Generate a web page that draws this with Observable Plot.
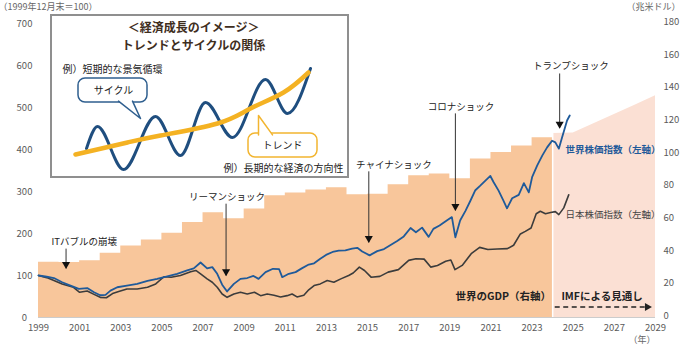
<!DOCTYPE html>
<html><head><meta charset="utf-8">
<script src="https://cdn.jsdelivr.net/npm/d3@7"></script>
<script src="https://cdn.jsdelivr.net/npm/@observablehq/plot@0.6"></script>
<style>
body{margin:0;background:#fff;}
#wrap{position:relative;width:680px;height:345px;}
#inset{position:absolute;left:50px;top:14px;width:295px;height:160px;border:2px solid #8f8f8f;background:#fff;}
</style></head><body><div id="wrap"><div id="main"></div><div id="inset"></div></div>
<script>
// ---- data ----
const xTicks = [1999,2001,2003,2005,2007,2009,2011,2013,2015,2017,2019,2021,2023,2025,2027,2029];
const leftTicks = [0,100,200,300,400,500,600,700];
const rightTicks = [0,20,40,60,80,100,120,140,160,180];

// World GDP (trillion USD, right axis), drawn for the year ending at each tick
const gdpYear = [2000,2001,2002,2003,2004,2005,2006,2007,2008,2009,2010,2011,2012,2013,2014,2015,2016,2017,2018,2019,2020,2021,2022,2023,2024];
const gdpValue = [33.8,33.7,34.7,39.4,43.7,47.5,51.6,58.2,64.1,60.5,66.5,74.6,76.2,78.0,79.5,75.2,75.4,81.2,86.8,87.8,85.0,97.0,101.0,105.0,110.0];
// IMF outlook
const forecastYear = [2024,2025,2026,2027,2028,2029];
const forecastValue = [112.7,112.9,118.6,124.3,130.0,135.8];

// World stock index (1999/12 = 100)
const worldT = [1999.0,1999.4,1999.75,2000.15,2000.4,2000.65,2000.96,2001.37,2001.7,2002.0,2002.26,2002.5,2002.83,2003.3,2003.8,2004.3,2004.77,2005.26,2005.74,2006.23,2006.55,2006.88,2007.2,2007.45,2007.69,2007.93,2008.17,2008.5,2008.82,2009.15,2009.45,2009.7,2010.04,2010.4,2010.7,2010.85,2011.17,2011.5,2011.8,2012.14,2012.4,2012.7,2012.98,2013.3,2013.6,2013.92,2014.25,2014.5,2014.74,2015.1,2015.47,2015.8,2016.1,2016.44,2016.76,2017.09,2017.35,2017.65,2017.97,2018.2,2018.5,2018.85,2019.1,2019.27,2019.5,2019.76,2020.0,2020.24,2020.48,2020.73,2020.97,2021.13,2021.37,2021.6,2021.78,2022.03,2022.35,2022.6,2022.84,2023.0,2023.25,2023.5,2023.73,2023.97,2024.13,2024.3,2024.46,2024.7,2024.83];
const worldV = [100,97,94,84,79,74,68,70,60,53,54,64,72,76,80,87,92,98,104,112,117,131,117,120,104,78,62,80,92,94,99,92,108,116,115,96,104,108,117,126,129,140,149,156,159,160,164,166,157,148,158,163,172,182,193,213,203,214,192,211,219,231,239,191,231,254,278,303,314,326,337,322,302,279,260,284,292,320,298,334,362,386,405,421,417,402,429,469,481];

// Japan stock index (1999/12 = 100)
const japanT = [1999.0,1999.4,1999.75,2000.15,2000.4,2000.7,2001.0,2001.37,2001.7,2002.0,2002.3,2002.6,2002.9,2003.3,2003.8,2004.3,2004.7,2005.1,2005.45,2005.9,2006.4,2006.65,2006.88,2007.2,2007.45,2007.69,2007.93,2008.17,2008.5,2008.82,2009.15,2009.5,2009.8,2010.12,2010.45,2010.77,2011.09,2011.33,2011.57,2011.9,2012.14,2012.4,2012.7,2013.04,2013.36,2013.7,2014.08,2014.3,2014.6,2014.85,2015.17,2015.6,2016.0,2016.5,2017.0,2017.35,2017.75,2018.07,2018.4,2018.8,2019.05,2019.25,2019.6,2020.04,2020.45,2020.85,2021.3,2021.8,2022.1,2022.43,2022.67,2022.95,2023.2,2023.4,2023.65,2023.9,2024.13,2024.3,2024.54,2024.78];
const japanV = [100,95,88,80,76,72,60,63,55,48,47,57,62,68,68,72,80,97,96,100,109,112,104,92,84,72,56,48,56,60,56,60,52,56,53,49,52,56,49,53,66,76,80,88,84,92,100,106,120,112,96,98,108,114,136,140,139,120,124,134,137,114,124,152,167,162,163,164,172,199,205,213,247,253,247,250,252,245,261,292];

// Events (x in years, y in index units)
const shockLabel = ["ITバブルの崩壊","リーマンショック","チャイナショック","コロナショック","トランプショック"];
const shockX     = [2000.34,2008.12,2015.06,2019.27,2024.34];
const shockTop   = [164,271,348,486,581];
const shockTip   = [117,100,179,255,451];
const shockTextX = [2001.22,2008.16,2016.28,2019.54,2024.89];
const shockTextY = [179,286,364,502,598];

// Inset illustration (cycle vs trend), in inset pixel units
const cycleX = [34,45,71,103,128,153,180,213,235,258];
const cycleY = [132,110,153,100,139,86,121,63,97,52];
const trendX = [23,75,108,165,198,231,256];
const trendY = [138,126,119,107,92,76,56];

// ---- build ----
const font = "'Noto Sans CJK JP', 'Noto Sans', sans-serif";
const toLeft = v => v * 700 / 180;
const gdpSteps = gdpYear.map((y, i) => ({x: y - 1, v: gdpValue[i]}));
gdpSteps.push({x: 2024, v: gdpValue[gdpValue.length - 1]});
const forecast = forecastYear.map((y, i) => ({x: y, v: forecastValue[i]}));
const world = worldT.map((t, i) => ({t, v: worldV[i]}));
const japan = japanT.map((t, i) => ({t, v: japanV[i]}));
const shocks = shockLabel.map((s, i) => ({s, x: shockX[i], top: shockTop[i], tip: shockTip[i], tx: shockTextX[i], ty: shockTextY[i]}));

const blue = "#1F5A9A";
const gray = "#3C3C3C";

const main = Plot.plot({
  width: 680, height: 345,
  marginLeft: 38, marginRight: 25, marginTop: 23, marginBottom: 28,
  style: {fontFamily: font, fontSize: "9.5px", background: "#fff", overflow: "visible"},
  x: {domain: [1999, 2029]},
  y: {domain: [0, 700]},
  marks: [
    Plot.areaY(gdpSteps, {x: "x", y: d => toLeft(d.v), curve: "step-after", fill: "#F8C69B"}),
    Plot.areaY(forecast, {x: "x", y: d => toLeft(d.v), fill: "#FBE0D4"}),
    Plot.ruleX([2024], {stroke: "#fff", strokeWidth: 1.5}),
    Plot.ruleY([0], {stroke: "#cccccc"}),
    Plot.axisX(xTicks, {tickSize: 0, tickPadding: 7, tickFormat: d => String(d), color: "#5a5a5a", label: null}),
    Plot.axisY(leftTicks, {anchor: "left", tickSize: 0, tickPadding: 14, textAnchor: "middle", color: "#5a5a5a", label: null}),
    Plot.axisY(rightTicks.map(toLeft), {anchor: "right", tickSize: 0, tickPadding: 8, dy: -1.5, tickFormat: d => String(Math.round(d * 180 / 700)), color: "#5a5a5a", label: null}),
    Plot.line(japan, {x: "t", y: "v", stroke: gray, strokeWidth: 1.6}),
    Plot.line(world, {x: "t", y: "v", stroke: blue, strokeWidth: 1.8}),
    // event arrows
    Plot.link(shocks, {x1: "x", x2: "x", y1: "top", y2: "tip", stroke: "#333", strokeWidth: 1}),
    Plot.dot(shocks, {x: "x", y: "tip", symbol: "triangle", rotate: 180, r: 3, fill: "#111", stroke: "none", dy: -4}),
    Plot.text(shocks, {x: "tx", y: "ty", text: "s", fill: "#222", fontSize: 9.5}),
    // series labels
    Plot.text(["世界株価指数（左軸）"], {x: 2024.62, y: 398, textAnchor: "start", fill: blue, fontSize: 9.5, fontWeight: "bold"}),
    Plot.text(["日本株価指数（左軸）"], {x: 2024.62, y: 245, textAnchor: "start", fill: "#444", fontSize: 9.5}),
    Plot.text(["世界のGDP（右軸）"], {x: 2021.6, y: 50, fill: "#222", fontSize: 10.5, fontWeight: "bold"}),
    Plot.text(["IMFによる見通し"], {x: 2026.4, y: 50, fill: "#222", fontSize: 10.5, fontWeight: "bold"}),
    Plot.link([0], {x1: 2024.1, x2: 2028.5, y1: 25, y2: 25, stroke: "#222", strokeWidth: 1.3, strokeDasharray: "5,3.5"}),
    Plot.dot([0], {x: 2028.6, y: 25, symbol: "triangle", rotate: 90, r: 3, fill: "#222", stroke: "none"}),
    // unit labels
    Plot.text(["（1999年12月末＝100）"], {frameAnchor: "top-left", lineAnchor: "middle", dx: -40, dy: -16, textAnchor: "start", fill: "#666", fontSize: 9}),
    Plot.text(["（兆米ドル）"], {frameAnchor: "top-right", lineAnchor: "middle", dx: 25, dy: -16, textAnchor: "end", fill: "#666", fontSize: 9}),
    Plot.text(["（年）"], {frameAnchor: "bottom-right", lineAnchor: "middle", dx: 0, dy: 23, fill: "#666", fontSize: 9})
  ]
});
document.getElementById("main").appendChild(main);

const cycle = cycleX.map((x, i) => ({x, y: cycleY[i]}));
const trend = trendX.map((x, i) => ({x, y: trendY[i]}));
const insetPlot = Plot.plot({
  width: 295, height: 160, margin: 0,
  style: {fontFamily: font, background: "#fff", overflow: "visible"},
  x: {domain: [0, 295], range: [0, 295], axis: null},
  y: {domain: [0, 160], range: [0, 160], axis: null},
  marks: [
    Plot.line(cycle, {x: "x", y: "y", curve: "monotone-x", stroke: "#1F4E7F", strokeWidth: 3}),
    Plot.line(trend, {x: "x", y: "y", curve: "natural", stroke: "#F4B223", strokeWidth: 4.5, strokeLinecap: "round"}),
    Plot.rect([0], {x1: 26, x2: 95, y1: 62, y2: 86, rx: 7, fill: "#fff", stroke: "#2F5F8F", strokeWidth: 1.5}),
    Plot.line([[66, 84.6], [88, 102], [80, 84.6]], {x: d => d[0], y: d => d[1], fill: "#fff", stroke: "#2F5F8F", strokeWidth: 1.5}),
    Plot.rect([0], {x1: 196, x2: 265, y1: 117, y2: 141, rx: 7, fill: "#fff", stroke: "#F2B530", strokeWidth: 1.5}),
    Plot.line([[206, 118.4], [206, 99], [220, 118.4]], {x: d => d[0], y: d => d[1], fill: "#fff", stroke: "#F2B530", strokeWidth: 1.5}),
    Plot.text(["サイクル"], {x: 61, y: 74, fontSize: 10, fill: "#222"}),
    Plot.text(["トレンド"], {x: 230, y: 129, fontSize: 10, fill: "#222"}),
    Plot.text(["例）短期的な景気循環"], {x: 10, y: 53, textAnchor: "start", fontSize: 10, fill: "#222"}),
    Plot.text(["例）長期的な経済の方向性"], {x: 291, y: 152, textAnchor: "end", fontSize: 10, fill: "#222"}),
    Plot.text(["＜経済成長のイメージ＞"], {x: 141, y: 12, fontSize: 12, fontWeight: "bold", fill: "#3F2E1E"}),
    Plot.text(["トレンドとサイクルの関係"], {x: 141, y: 29.5, fontSize: 12, fontWeight: "bold", fill: "#3F2E1E"})
  ]
});
document.getElementById("inset").appendChild(insetPlot);
</script></body></html>
